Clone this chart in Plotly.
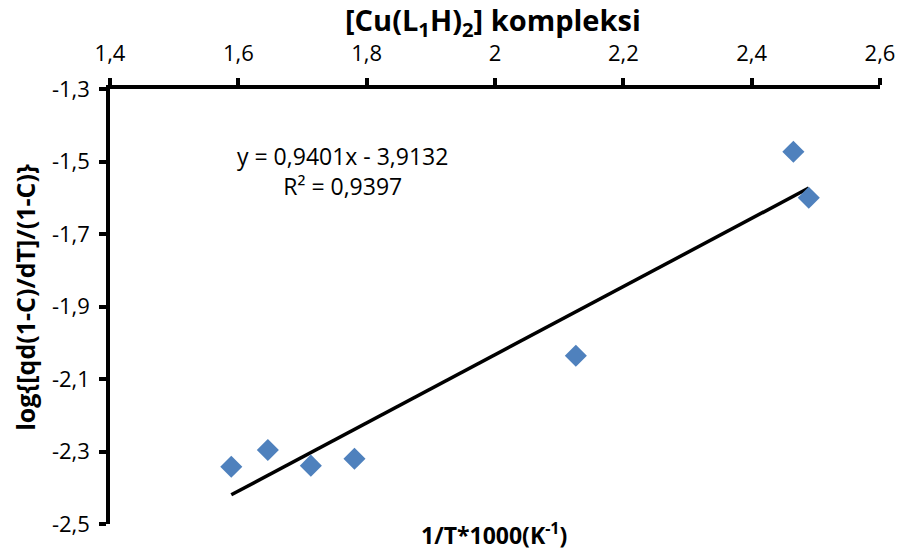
import plotly.graph_objects as go

# Data
x_vals = [1.589, 1.646, 1.713, 1.781, 2.126, 2.465, 2.489]
y_vals = [-2.342, -2.296, -2.339, -2.320, -2.036, -1.473, -1.600]
slope = 0.9401
intercept = -3.9132
x_ticks = [1.4, 1.6, 1.8, 2.0, 2.2, 2.4, 2.6]
x_tick_text = ["1,4", "1,6", "1,8", "2", "2,2", "2,4", "2,6"]
y_ticks = [-1.3, -1.5, -1.7, -1.9, -2.1, -2.3, -2.5]
y_tick_text = ["-1,3", "-1,5", "-1,7", "-1,9", "-2,1", "-2,3", "-2,5"]

FONT = "Open Sans"
W, H = 907, 551
L, R, T, B = 110, 20, 89, 27
PW, PH = W - L - R, H - T - B

def px(xp):
    return (xp - L) / PW

def py(yp):
    return 1 - (yp - T) / PH

x_line = [min(x_vals), max(x_vals)]
y_line = [slope * v + intercept for v in x_line]

fig = go.Figure()
fig.add_trace(go.Scatter(
    x=x_line, y=y_line, mode="lines",
    line=dict(color="black", width=3.5), showlegend=False, hoverinfo="skip"))
fig.add_trace(go.Scatter(
    x=x_vals, y=y_vals, mode="markers",
    marker=dict(symbol="diamond", size=17, color="#4F81BD"),
    showlegend=False))

fig.update_layout(
    width=W, height=H,
    margin=dict(l=L, r=R, t=T, b=B),
    paper_bgcolor="white", plot_bgcolor="white",
    font=dict(family=FONT, color="black"),
    xaxis=dict(range=[1.4, 2.6], side="top", tickvals=x_ticks, ticktext=x_tick_text,
               showgrid=False, zeroline=False, showline=True, linecolor="black", linewidth=3.5,
               ticks="outside", ticklen=7, tickwidth=3.5, tickcolor="black",
               ticklabelstandoff=8,
               tickfont=dict(size=22, family=FONT, color="black")),
    yaxis=dict(range=[-2.5, -1.3], tickvals=y_ticks, ticktext=y_tick_text,
               showgrid=False, zeroline=False, showline=True, linecolor="black", linewidth=3.5,
               ticks="outside", ticklen=7, tickwidth=3.5, tickcolor="black",
               ticklabelstandoff=5,
               tickfont=dict(size=22, family=FONT, color="black")),
)

fig.add_annotation(text="<b>[Cu(L<sub>1</sub>H)<sub>2</sub>] kompleksi</b>", xref="paper", yref="paper",
                   x=px(496), y=py(21), xanchor="center", yanchor="middle", showarrow=False,
                   font=dict(size=29, family=FONT, color="black"))
fig.add_annotation(text="<b>log{[qd(1-C)/dT]/(1-C)}</b>", xref="paper", yref="paper",
                   x=px(24), y=py(297), xanchor="center", yanchor="middle", showarrow=False,
                   textangle=-90,
                   font=dict(size=25, family=FONT, color="black"))
fig.add_annotation(text="<b>1/T*1000(K<sup>-1</sup>)</b>", xref="paper", yref="paper",
                   x=px(497), y=py(534), xanchor="center", yanchor="middle", showarrow=False,
                   font=dict(size=23, family=FONT, color="black"))
fig.add_annotation(text="y = 0,9401x - 3,9132<br>R² = 0,9397", xref="paper", yref="paper",
                   x=px(345), y=py(171), xanchor="center", yanchor="middle",
                   showarrow=False, align="center",
                   font=dict(size=23, family=FONT, color="black"))

fig.write_html("out.html")
